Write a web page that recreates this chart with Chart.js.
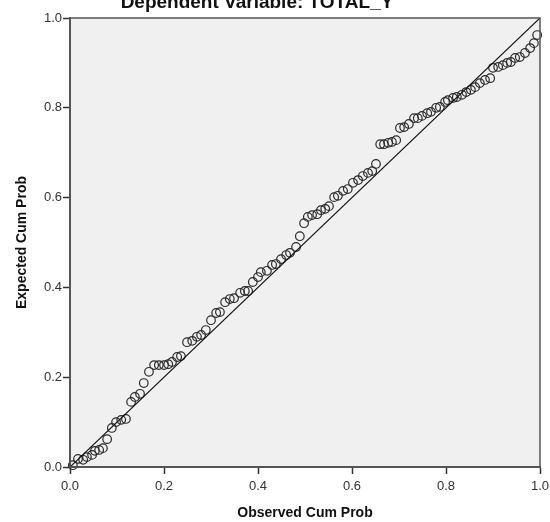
<!DOCTYPE html>
<html>
<head>
<meta charset="utf-8">
<script src="https://cdn.jsdelivr.net/npm/chart.js@4/dist/chart.umd.min.js"></script>
<style>
    html, body { margin: 0; padding: 0; background: #fff; }
    #wrap { width: 550px; height: 522px; }
</style>
</head>
<body>
<div id="wrap"><canvas id="chart" width="550" height="522"></canvas></div>
<script>
const chart_title = "Dependent Variable: TOTAL_Y";
const x_title = "Observed Cum Prob";
const y_title = "Expected Cum Prob";

// observed cumulative probability of each residual
const observed_cum = [
    0.006, 0.017, 0.028, 0.036, 0.047, 0.053, 0.062, 0.070, 0.079, 0.089,
    0.098, 0.109, 0.119, 0.130, 0.138, 0.149, 0.157, 0.168, 0.179, 0.189,
    0.200, 0.209, 0.217, 0.228, 0.236, 0.249, 0.260, 0.270, 0.279, 0.289,
    0.300, 0.311, 0.319, 0.330, 0.340, 0.349, 0.362, 0.372, 0.379, 0.389,
    0.400, 0.406, 0.419, 0.430, 0.438, 0.449, 0.460, 0.468, 0.481, 0.489,
    0.498, 0.506, 0.515, 0.526, 0.534, 0.543, 0.551, 0.562, 0.570, 0.581,
    0.591, 0.602, 0.613, 0.623, 0.634, 0.643, 0.651, 0.660, 0.668, 0.677,
    0.685, 0.694, 0.702, 0.711, 0.721, 0.732, 0.740, 0.749, 0.760, 0.768,
    0.779, 0.787, 0.798, 0.804, 0.815, 0.823, 0.834, 0.843, 0.853, 0.862,
    0.872, 0.883, 0.894, 0.900, 0.911, 0.921, 0.930, 0.938, 0.947, 0.957,
    0.968, 0.979, 0.987, 0.994,
];

// expected cumulative probability (normal)
const expected_cum = [
    0.004, 0.018, 0.016, 0.022, 0.027, 0.036, 0.038, 0.042, 0.062, 0.087,
    0.100, 0.105, 0.107, 0.145, 0.156, 0.163, 0.187, 0.212, 0.227, 0.227,
    0.227, 0.229, 0.234, 0.245, 0.247, 0.278, 0.281, 0.290, 0.294, 0.305,
    0.327, 0.343, 0.345, 0.367, 0.374, 0.376, 0.388, 0.392, 0.392, 0.412,
    0.423, 0.434, 0.437, 0.450, 0.452, 0.463, 0.472, 0.477, 0.490, 0.514,
    0.543, 0.557, 0.561, 0.563, 0.572, 0.575, 0.581, 0.601, 0.604, 0.615,
    0.619, 0.633, 0.639, 0.648, 0.655, 0.659, 0.675, 0.719, 0.719, 0.722,
    0.724, 0.728, 0.755, 0.757, 0.764, 0.777, 0.777, 0.782, 0.788, 0.791,
    0.800, 0.802, 0.813, 0.817, 0.822, 0.824, 0.829, 0.835, 0.840, 0.846,
    0.855, 0.862, 0.866, 0.889, 0.891, 0.895, 0.900, 0.902, 0.911, 0.913,
    0.922, 0.933, 0.944, 0.962,
];

// reference diagonal
const diag_x = [0, 1];
const diag_y = [0, 1];

const tick_values = [0, 0.2, 0.4, 0.6, 0.8, 1.0];

const FONT = "'Liberation Sans', Arial, sans-serif";

const plot_bg = {
    id: "plot_bg",
    beforeDraw(chart) {
        const {ctx, chartArea: a} = chart;
        ctx.save();
        ctx.fillStyle = "#f0f0f0";
        ctx.fillRect(a.left, a.top, a.right - a.left, a.bottom - a.top);
        ctx.restore();
    },
    afterDraw(chart) {
        const {ctx, chartArea: a} = chart;
        ctx.save();
        ctx.strokeStyle = "#555";
        ctx.lineWidth = 1.5;
        ctx.strokeRect(a.left, a.top, a.right - a.left, a.bottom - a.top);
        ctx.fillStyle = "#111";
        ctx.font = `bold 19px ${FONT}`;
        ctx.textAlign = "center";
        ctx.textBaseline = "alphabetic";
        ctx.fillText(chart_title, 257, 8);
        ctx.restore();
    },
};

function axis(title, is_x) {
    return {
        type: "linear",
        min: 0,
        max: 1,
        afterBuildTicks: (scale) => {
            scale.ticks = tick_values.map(v => ({value: v}));
        },
        afterFit: (scale) => {
            if (is_x) scale.height = 55;
            else scale.width = 56;
            // edge labels must not push the plot area in
            scale.paddingLeft = 0;
            scale.paddingRight = 0;
            scale.paddingTop = 0;
            scale.paddingBottom = 0;
        },
        ticks: {
            callback: (v) => Number(v).toFixed(1),
            color: "#333",
            padding: is_x ? 5 : 1,
            maxRotation: 0,
            font: {family: FONT, size: 13},
        },
        grid: {
            drawOnChartArea: false,
            drawTicks: true,
            tickLength: 7,
            tickColor: "#333",
            tickWidth: 1.5,
        },
        border: {display: true, color: "#555", width: 2},
        title: {
            display: true,
            text: title,
            color: "#111",
            padding: 0,
            font: {family: FONT, size: 14, weight: "bold"},
        },
    };
}

const chart = new Chart(document.getElementById("chart"), {
    type: "scatter",
    data: {
        datasets: [
            {
                data: diag_x.map((x, i) => ({x: x, y: diag_y[i]})),
                showLine: true,
                borderColor: "#111",
                borderWidth: 1.2,
                pointRadius: 0,
            },
            {
                data: observed_cum.map((x, i) => ({x: x, y: expected_cum[i]})),
                pointRadius: 4.3,
                pointBorderWidth: 1.2,
                borderColor: "#2a2a2a",
                backgroundColor: "rgba(0,0,0,0)",
                clip: false,
            },
        ],
    },
    options: {
        responsive: false,
        animation: false,
        layout: {padding: {left: 14, top: 18, right: 10, bottom: 0}},
        plugins: {
            legend: {display: false},
            tooltip: {enabled: false},
        },
        scales: {
            x: axis(x_title, true),
            y: axis(y_title, false),
        },
    },
    plugins: [plot_bg],
});
</script>
</body>
</html>
